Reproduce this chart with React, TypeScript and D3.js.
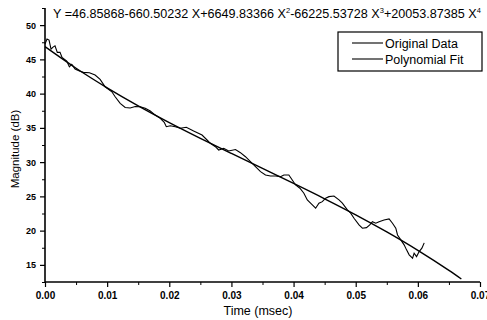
import React, { useEffect, useRef } from "react";
import * as d3 from "d3";

const timeMs = [
  0, 0.00032, 0.00065, 0.00097, 0.00129, 0.00161, 0.00198, 0.00242, 0.00274, 0.0035,
  0.00392, 0.00431, 0.00484, 0.00553, 0.00618, 0.00715, 0.00806, 0.00887, 0.00968, 0.01076,
  0.01129, 0.0121, 0.0129, 0.01371, 0.01452, 0.01532, 0.01613, 0.01694, 0.01774, 0.01855,
  0.01919, 0.01952, 0.02016, 0.02097, 0.02177, 0.02274, 0.02392, 0.02527, 0.02608, 0.02661,
  0.02742, 0.02795, 0.02876, 0.02956, 0.03065, 0.03145, 0.03226, 0.03306, 0.03387, 0.03468,
  0.03548, 0.03629, 0.0371, 0.0379, 0.03844, 0.03924, 0.03979, 0.04032, 0.04102, 0.04166,
  0.04221, 0.04302, 0.04355, 0.04408, 0.04463, 0.04516, 0.0457, 0.0465, 0.04731, 0.04785,
  0.04866, 0.04919, 0.04973, 0.05053, 0.05108, 0.05173, 0.05226, 0.05269, 0.05323, 0.05376,
  0.05456, 0.05537, 0.05592, 0.05645, 0.05673, 0.05726, 0.05779, 0.05818, 0.0586, 0.05915,
  0.0594, 0.05979, 0.06021, 0.06065, 0.06102,
];
const magnitudeDb = [
  47.23, 47.96, 47.81, 46.5, 46.79, 46.98, 46.02, 46.02, 45.29, 44.75,
  43.92, 44.27, 43.58, 43.29, 43.1, 43.04, 42.71, 42.08, 41.0, 40.27,
  39.54, 38.58, 37.97, 37.9, 38.11, 38.09, 37.85, 37.46, 36.87, 36.39,
  35.81, 35.17, 35.31, 35.17, 34.94, 35.08, 34.54, 33.96, 33.23, 32.75,
  32.25, 31.77, 32.02, 31.62, 31.84, 31.38, 30.79, 30.06, 29.34, 28.61,
  28.12, 27.98, 27.98, 27.88, 28.12, 28.12, 27.4, 26.67, 26.19, 25.46,
  24.48, 23.75, 23.27, 24.0, 24.23, 24.73, 24.96, 25.06, 24.48, 24.0,
  23.02, 22.54, 21.81, 20.83, 20.35, 20.44, 20.83, 21.31, 21.08, 21.31,
  21.56, 21.71, 21.08, 20.35, 19.37, 18.65, 17.92, 17.19, 16.46, 15.98,
  16.71, 16.21, 16.94, 17.44, 18.21,
];

// Polynomial fit curve sampled at these times
const fitTime = [0, 0.005, 0.01, 0.015, 0.02, 0.025, 0.03, 0.035, 0.04, 0.045, 0.05, 0.055, 0.06, 0.065, 0.067];
const fitDb = [46.86, 43.71, 40.85, 38.22, 35.78, 33.48, 31.26, 29.08, 26.89, 24.65, 22.31, 19.81, 17.12, 14.19, 12.94];

const xTicks = [0, 0.01, 0.02, 0.03, 0.04, 0.05, 0.06, 0.07];
const yTicks = [15, 20, 25, 30, 35, 40, 45, 50];
const legendLabels = ["Original Data", "Polynomial Fit"];
const equationParts = [
  ["Y =46.85868-660.50232 X+6649.83366 X", "2"],
  ["-66225.53728 X", "3"],
  ["+20053.87385 X", "4"],
];

const App = () => {
  const svgRef = useRef(null);

  useEffect(() => {
    const svg = d3.select(svgRef.current);
    svg.selectAll("*").remove();

    const x = d3.scaleLinear().domain([0, 0.07]).range([45, 480]);
    const y = d3.scaleLinear().domain([12.5, 52.5]).range([282, 8]);

    const font = "Arial, 'Liberation Sans', sans-serif";

    // x axis
    const xAxis = svg
      .append("g")
      .attr("transform", `translate(0,${y(12.5)})`)
      .call(
        d3.axisBottom(x).tickValues(xTicks).tickSize(5).tickFormat(d3.format(".2f"))
      );
    xAxis.select(".domain").attr("stroke-width", 1.6).attr("d", `M${x(0)},0H${x(0.07)}`);
    xAxis.selectAll(".tick line").attr("stroke-width", 1.2);
    xAxis
      .selectAll(".tick text")
      .attr("y", 10)
      .attr("dy", "0.71em")
      .style("font-family", font)
      .style("font-size", "10px")
      .style("font-weight", "bold");
    svg
      .append("g")
      .attr("transform", `translate(0,${y(12.5)})`)
      .call(d3.axisBottom(x).tickValues(d3.range(0.005, 0.07, 0.01)).tickSize(3).tickFormat(() => ""))
      .call((g) => g.select(".domain").remove());

    // y axis
    const yAxis = svg
      .append("g")
      .attr("transform", `translate(${x(0)},0)`)
      .call(d3.axisLeft(y).tickValues(yTicks).tickSize(5).tickFormat(d3.format("d")));
    yAxis.select(".domain").attr("stroke-width", 1.6).attr("d", `M0,${y(12.5)}V${y(52.5)}`);
    yAxis.selectAll(".tick line").attr("stroke-width", 1.2);
    yAxis
      .selectAll(".tick text")
      .attr("x", -9)
      .style("font-family", font)
      .style("font-size", "9px")
      .style("font-weight", "bold");
    svg
      .append("g")
      .attr("transform", `translate(${x(0)},0)`)
      .call(d3.axisLeft(y).tickValues(d3.range(12.5, 53, 5)).tickSize(3).tickFormat(() => ""))
      .call((g) => g.select(".domain").remove());

    // axis titles
    svg
      .append("text")
      .attr("x", 258)
      .attr("y", 315)
      .attr("text-anchor", "middle")
      .style("font-family", font)
      .style("font-size", "12.5px")
      .text("Time (msec)");
    svg
      .append("text")
      .attr("transform", "translate(19,149) rotate(-90)")
      .attr("text-anchor", "middle")
      .style("font-family", font)
      .style("font-size", "11.5px")
      .text("Magnitude (dB)");

    // lines
    const line = d3
      .line()
      .x((d) => x(d[0]))
      .y((d) => y(d[1]));

    svg
      .append("path")
      .attr("d", line(timeMs.map((t, i) => [t, magnitudeDb[i]])))
      .attr("fill", "none")
      .attr("stroke", "#000")
      .attr("stroke-width", 1.1);

    svg
      .append("path")
      .attr("d", line.curve(d3.curveMonotoneX)(fitTime.map((t, i) => [t, fitDb[i]])))
      .attr("fill", "none")
      .attr("stroke", "#000")
      .attr("stroke-width", 1.4);

    // equation
    const eq = svg
      .append("text")
      .attr("x", 53)
      .attr("y", 18)
      .style("font-family", font)
      .style("font-size", "12.6px");
    equationParts.forEach(([base, sup], i) => {
      eq.append("tspan").attr("dy", i === 0 ? 0 : 5).text(base);
      eq.append("tspan").attr("dy", -5).style("font-size", "7.5px").text(sup);
    });

    // legend
    const legend = svg.append("g");
    legend
      .append("rect")
      .attr("x", 338)
      .attr("y", 32)
      .attr("width", 144)
      .attr("height", 39)
      .attr("fill", "#fff")
      .attr("stroke", "#000")
      .attr("stroke-width", 1.2);
    legendLabels.forEach((label, i) => {
      const ly = 43 + i * 16;
      legend
        .append("line")
        .attr("x1", 352)
        .attr("x2", 383)
        .attr("y1", ly)
        .attr("y2", ly)
        .attr("stroke", "#000")
        .attr("stroke-width", 1.1);
      legend
        .append("text")
        .attr("x", 385)
        .attr("y", ly + 4.5)
        .style("font-family", font)
        .style("font-size", "12.5px")
        .text(label);
    });
  }, []);

  return (
    <svg
      ref={svgRef}
      width={487}
      height={320}
      style={{ position: "absolute", left: 0, top: 0, background: "#fff" }}
    ></svg>
  );
};

export default App;
